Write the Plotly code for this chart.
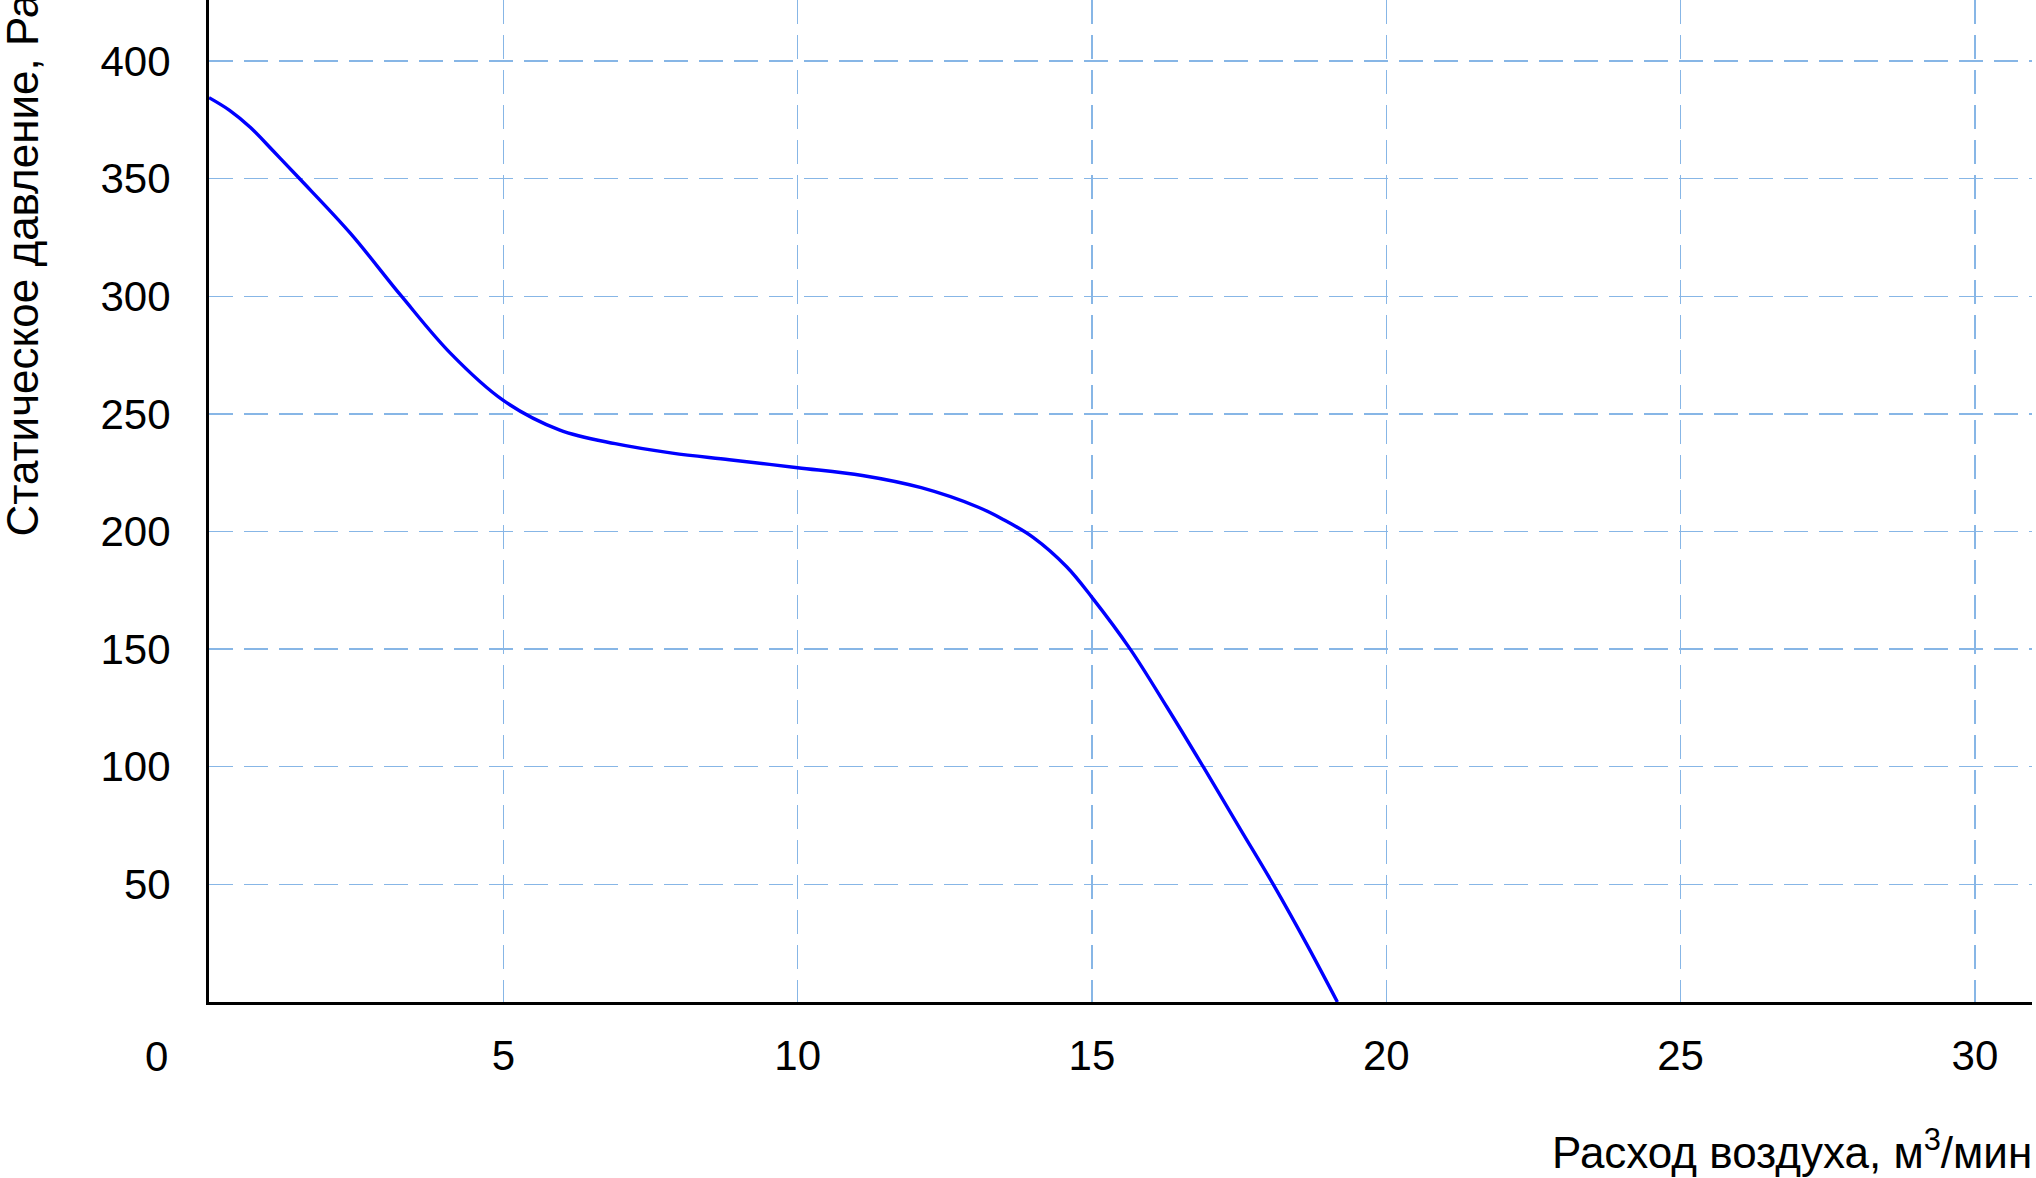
import plotly.graph_objects as go

# Data
flow = [0, 0.35, 0.7, 1.1, 1.545, 2.4, 3.27, 4.1, 5.0, 5.95, 6.9, 7.87, 8.84, 10.0, 11.1,
        12.1, 13.07, 13.5, 14.0, 14.57, 15.0, 15.65, 16.27, 16.89, 17.52, 18.08, 18.65, 19.17]
pressure = [384.4, 379.0, 371.8, 361.5, 349.8, 326.8, 300.0, 275.8, 255.7, 243.2, 237.3,
            233.3, 230.5, 227.1, 223.8, 218.6, 210.3, 205.0, 197.5, 185.0, 172.0, 150.0,
            125.5, 100.0, 73.5, 50.0, 24.5, 0.0]
x_ticks = [5, 10, 15, 20, 25, 30]
y_ticks = [50, 100, 150, 200, 250, 300, 350, 400]

FONT = "Liberation Sans Narrow, Arial Narrow, Liberation Sans, Arial, sans-serif"
GRID = "rgb(135,182,230)"

fig = go.Figure()
fig.add_trace(go.Scatter(x=flow, y=pressure, mode="lines",
                         line=dict(color="#0000ff", width=3.4, shape="spline", smoothing=1.0),
                         hoverinfo="skip", showlegend=False, cliponaxis=False))

fig.update_layout(
    width=2036, height=1178,
    margin=dict(l=209, r=4, t=0, b=176),
    paper_bgcolor="white", plot_bgcolor="white",
    font=dict(family=FONT, size=42, color="black"),
    xaxis=dict(range=[0, 30.97], tickvals=x_ticks, ticktext=[str(v) for v in x_ticks],
               showgrid=True, gridcolor=GRID, gridwidth=1.4, griddash="24px,11px",
               zeroline=False, showline=True, linecolor="black", linewidth=3,
               ticks="", ticklabelstandoff=15, fixedrange=True),
    yaxis=dict(range=[0, 425.9], tickvals=y_ticks, ticktext=[str(v) for v in y_ticks],
               showgrid=True, gridcolor=GRID, gridwidth=1.4, griddash="24px,11px",
               zeroline=False, showline=True, linecolor="black", linewidth=3,
               ticks="", ticklabelstandoff=27, fixedrange=True),
    annotations=[
        dict(text="0", xref="x", x=0, xshift=-53, yref="paper", y=0, yshift=-54,
             xanchor="center", yanchor="middle", showarrow=False, font=dict(size=42)),
        dict(text="Расход воздуха, м<sup>3</sup>/мин", xref="paper", x=1, xshift=2,
             yref="paper", y=0, yshift=-147, xanchor="right", yanchor="middle",
             showarrow=False, font=dict(size=44)),
        dict(text="Статическое давление, Ра", xref="paper", x=0, xshift=-187,
             yref="paper", y=(1002 - 539) / 1002, xanchor="center", yanchor="bottom",
             textangle=-90, showarrow=False, font=dict(size=44)),
    ],
)

fig.write_html("out.html", config={"displayModeBar": False, "staticPlot": True},
               post_script="document.body.style.margin='0';document.body.style.overflow='hidden';")
